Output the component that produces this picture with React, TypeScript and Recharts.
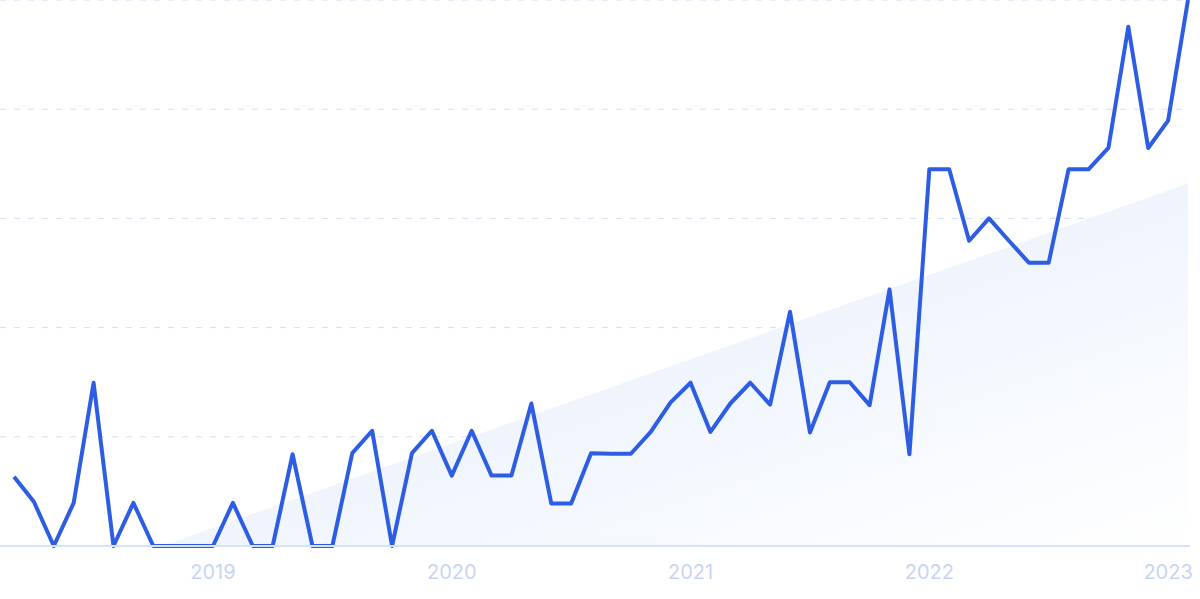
import React from "react";
import { ComposedChart, Line, Area, XAxis, YAxis, CartesianGrid } from "recharts";

// Monthly index, Mar 2018 .. Feb 2023
const monthIndex: number[] = Array.from({ length: 60 }, (_, i) => i);

const interest: number[] = [
  12.7, 8.1, 0, 7.9, 29.9, 0, 7.9, 0, 0, 0,
  0, 7.9, 0, 0, 16.8, 0, 0, 17.0, 21.1, 0,
  17.0, 21.1, 12.9, 21.1, 12.9, 12.9, 26.1, 7.8, 7.8, 17.0,
  16.9, 16.9, 20.9, 26.3, 29.9, 20.9, 26.1, 29.9, 25.9, 42.9,
  20.8, 30.0, 30.0, 25.8, 47.0, 16.8, 69.0, 69.0, 55.9, 60.0,
  55.9, 51.9, 51.9, 69.0, 69.0, 72.9, 95.1, 72.9, 77.9, 100,
];

const trendT: number[] = [7.44, 59];
const trendValues: number[] = [0, 66.4];

const yearTicks: number[] = [10, 22, 34, 46, 58];
const yearLabels: string[] = ["2019", "2020", "2021", "2022", "2023"];

const yTicks: number[] = [0, 20, 40, 60, 80, 100];

const data = monthIndex.map((t, i) => ({ t, value: interest[i] }));
const trendData = trendT.map((t, i) => ({ t, trend: trendValues[i] }));

export default function App() {
  return (
    <div style={{ position: "absolute", left: 0, top: 0, width: 1200, height: 599, background: "#fff" }}>
      <ComposedChart
        width={1200}
        height={599}
        data={data}
        margin={{ top: 0, right: 10, bottom: 0, left: 0 }}
      >
        <defs>
          <linearGradient id="trendFill" x1="0" y1="0" x2="1" y2="1">
            <stop offset="0%" stopColor="#e0eafb" />
            <stop offset="100%" stopColor="#ffffff" />
          </linearGradient>
        </defs>
        <CartesianGrid
          vertical={false}
          horizontalValues={yTicks}
          stroke="#d2dffa"
          strokeDasharray="6 8"
        />
        <XAxis
          type="number"
          dataKey="t"
          domain={[0, 59]}
          ticks={yearTicks}
          tickFormatter={(v: number) => yearLabels[yearTicks.indexOf(v)] ?? ""}
          padding={{ left: 14, right: 2 }}
          axisLine={{ stroke: "#d3e4fa", strokeWidth: 2 }}
          tickLine={false}
          tickSize={0}
          tickMargin={19}
          height={53}
          interval={0}
          tick={{ fill: "#c8d4f6", fontSize: 20, fontFamily: "Inter, sans-serif" }}
        />
        <YAxis hide domain={[0, 100]} ticks={yTicks} width={0} />
        <Area
          data={trendData}
          dataKey="trend"
          type="linear"
          stroke="none"
          fill="url(#trendFill)"
          fillOpacity={1}
          isAnimationActive={false}
          dot={false}
          activeDot={false}
        />
        <Line
          dataKey="value"
          type="linear"
          stroke="#2d5de2"
          strokeWidth={4}
          strokeLinejoin="round"
          dot={false}
          activeDot={false}
          isAnimationActive={false}
        />
      </ComposedChart>
    </div>
  );
}
